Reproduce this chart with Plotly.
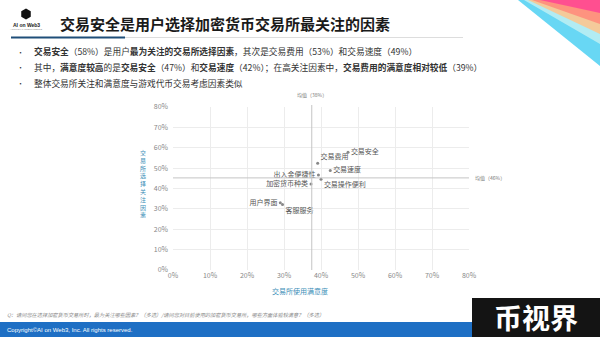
import math
import plotly.graph_objects as go

# ---------------- data ----------------
factors = ["交易安全", "交易费用", "交易速度", "出入金便捷性", "交易操作便利",
           "加密货币种类", "用户界面", "客服服务"]
satisfaction = [47.3, 39.1, 42.5, 39.3, 40.0, 37.3, 29.0, 29.6]   # x, %
attention = [57.8, 52.4, 48.8, 46.6, 44.5, 42.2, 33.0, 32.2]      # y, %
label_pos = ["middle right", "top right", "middle right", "middle left",
             "bottom right", "middle left", "middle left", "bottom right"]
mean_x_val = 37.5
mean_y_val = 45.2
mean_x_label = "均值（38%）"
mean_y_label = "均值（46%）"
tick_vals = [0, 10, 20, 30, 40, 50, 60, 70, 80]
tick_text = ["0%", "10%", "20%", "30%", "40%", "50%", "60%", "70%", "80%"]

title_text = "交易安全是用户选择加密货币交易所最关注的因素"
bullets = [
    "<b>交易安全</b>（58%）是用户<b>最为关注的交易所选择因素</b>，其次是交易费用（53%）和交易速度（49%）",
    "其中，<b>满意度较高</b>的是<b>交易安全</b>（47%）和<b>交易速度</b>（42%）；在高关注因素中，<b>交易费用的满意度相对较低</b>（39%）",
    "整体交易所关注和满意度与游戏代币交易考虑因素类似",
]
x_title = "交易所使用满意度"
y_title = "交易所选择关注因素"
question = "Q：请问您在选择加密货币交易所时，最为关注哪些因素？（多选）/请问您对目前使用的加密货币交易所，哪些方面体验较满意？（多选）"
copyright_text = "Copyright©AI on Web3, Inc. All rights reserved."
brand = "币视界"

# ---------------- layout helpers ----------------
W, H = 600, 337
L, R, T, B = 173, 131, 107, 67
PW, PH = W - L - R, H - T - B
FONT = "Noto Sans CJK SC"


def px(x):
    return (x - L) / PW


def py(y):
    return (H - B - y) / PH


def note(x, y, text, size, color, xanchor="center", family=FONT):
    return dict(xref="paper", yref="paper", x=px(x), y=py(y), text=text,
                xanchor=xanchor, yanchor="middle", showarrow=False, borderpad=0,
                font=dict(size=size, color=color, family=family))


fig = go.Figure()
fig.add_trace(go.Scatter(
    x=satisfaction, y=attention, mode="markers+text",
    text=factors, textposition=label_pos,
    textfont=dict(size=7, color="#555", family=FONT),
    marker=dict(size=3, color="#888"),
    cliponaxis=False, showlegend=False, hoverinfo="skip",
))

shapes = []
annotations = []

# mean lines
shapes.append(dict(type="line", xref="x", yref="paper", x0=mean_x_val, x1=mean_x_val,
                   y0=0, y1=py(105), line=dict(color="#c4c4c4", width=1)))
shapes.append(dict(type="line", xref="paper", yref="y", x0=0, x1=1,
                   y0=mean_y_val, y1=mean_y_val, line=dict(color="#c4c4c4", width=1)))
annotations.append(dict(xref="x", yref="paper", x=mean_x_val, y=py(95), text=mean_x_label,
                        xanchor="center", yanchor="middle",
                        showarrow=False, font=dict(size=5, color="#777", family=FONT)))
annotations.append(dict(xref="paper", yref="y", x=px(473), y=mean_y_val, text=mean_y_label,
                        xanchor="left", yanchor="middle",
                        showarrow=False, font=dict(size=5, color="#777", family=FONT)))

# axis titles
annotations.append(note(300, 291, x_title, 7, "#3d8fb8"))
annotations.append(note(143, 183, "<br>".join(y_title), 6, "#3d8fb8"))

# title
annotations.append(note(59, 23, "<b>" + title_text + "</b>", 15, "#1a1a1a", "left"))
# title underline
shapes.append(dict(type="line", xref="paper", yref="paper", x0=px(125), x1=px(463), y0=py(37.5), y1=py(37.5),
                   line=dict(color="#dddddd", width=1)))
shapes.append(dict(type="line", xref="paper", yref="paper", x0=px(11), x1=px(125), y0=py(37.5), y1=py(37.5),
                   line=dict(color="#1f4e79", width=2)))

# logo
hx, hy, r = 26, 14, 5.5
pts = [(hx + r * math.cos(math.radians(90 + 60 * k)), hy + r * math.sin(math.radians(90 + 60 * k))) for k in range(6)]
path = "M " + " L ".join(f"{px(a):.5f},{py(b):.5f}" for a, b in pts) + " Z"
shapes.append(dict(type="path", xref="paper", yref="paper", path=path, fillcolor="#111", line=dict(width=0)))
annotations.append(note(26, 25, "<b>AI on Web3</b>", 5, "#222", family="Liberation Sans"))
annotations.append(note(26, 29.5, "ARTIFICIAL INTELLIGENCE", 2.5, "#888", family="Liberation Sans"))

# bullets
for t, yy in zip(bullets, [52, 67, 83]):
    annotations.append(note(20, yy, "•", 7, "#333"))
    annotations.append(note(33, yy, t, 8.7, "#333", "left"))

# question
annotations.append(note(6, 314, "<i>" + question + "</i>", 5.2, "#888", "left"))

# footer bar
shapes.append(dict(type="rect", xref="paper", yref="paper", x0=px(0), x1=px(600), y0=py(337), y1=py(322),
                   fillcolor="#1e6fc4", line=dict(width=0), layer="above"))
annotations.append(note(6, 329.5, copyright_text, 6, "white", "left", "Liberation Sans"))
# brand box
shapes.append(dict(type="rect", xref="paper", yref="paper", x0=px(472), x1=px(600), y0=py(337), y1=py(298),
                   fillcolor="#141414", line=dict(width=0), layer="above"))
annotations.append(note(536, 316.5, "<b>" + brand + "</b>", 28, "white"))


# top-right decoration: stacked translucent bands (pink -> orange -> pale -> cyan)
def band(x_start, y_end, color, op):
    pts_ = [(x_start, 0), (600, 0), (600, y_end)]
    ctrl = (600 - (600 - x_start) * 0.45, y_end * 0.55)
    p = (f"M {px(pts_[0][0]):.5f},{py(pts_[0][1]):.5f} L {px(600):.5f},{py(0):.5f} "
         f"L {px(600):.5f},{py(y_end):.5f} Q {px(ctrl[0]):.5f},{py(ctrl[1]):.5f} "
         f"{px(x_start):.5f},{py(0):.5f} Z")
    return dict(type="path", xref="paper", yref="paper", path=p, fillcolor=color,
                opacity=op, line=dict(width=0), layer="above")


shapes.append(band(518, 66, "#35c9f0", 0.75))
shapes.append(band(524, 44, "#bff0f2", 0.85))
shapes.append(band(528, 34, "#ffc48a", 0.85))
shapes.append(band(532, 24, "#ff8a7a", 0.85))
shapes.append(band(540, 13, "#ff3f95", 0.8))

fig.update_layout(
    width=W, height=H, autosize=False,
    margin=dict(l=L, r=R, t=T, b=B),
    paper_bgcolor="white", plot_bgcolor="white",
    font=dict(family=FONT),
    shapes=shapes, annotations=annotations,
    xaxis=dict(range=[0, 80], tickvals=tick_vals, ticktext=tick_text, showgrid=True,
               gridcolor="#ececec", gridwidth=1, zeroline=False, showline=False,
               tickfont=dict(size=7, color="#888"), fixedrange=True),
    yaxis=dict(range=[0, 80], tickvals=tick_vals, ticktext=tick_text, showgrid=True,
               gridcolor="#ececec", gridwidth=1, zeroline=False, showline=False,
               tickfont=dict(size=7, color="#888"), ticklabelstandoff=4, fixedrange=True),
)

fig.write_html("out.html", config=dict(displayModeBar=False))
